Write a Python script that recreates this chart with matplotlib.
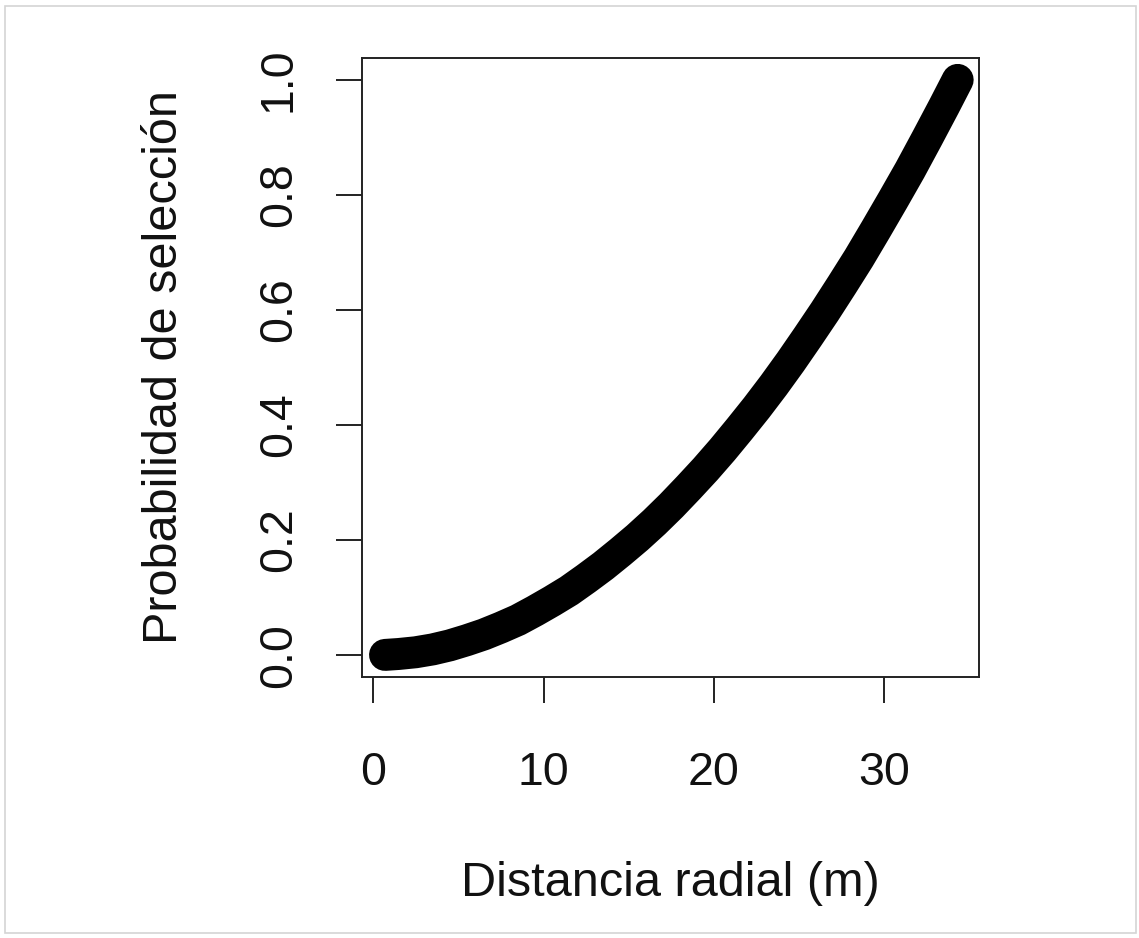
import matplotlib
matplotlib.use("Agg")
import matplotlib.pyplot as plt
from matplotlib.patches import Rectangle

# values
distancia = [0.7, 1.5, 2.5, 3.5, 4.5, 5.5, 6.5, 7.5, 8.5, 9.5, 10.5, 11.5, 12.5, 13.5,
             14.5, 15.5, 16.5, 17.5, 18.5, 19.5, 20.5, 21.5, 22.5, 23.5, 24.5, 25.5,
             26.5, 27.5, 28.5, 29.5, 30.5, 31.5, 32.5, 33.5, 34.3]
probabilidad = [0.0004, 0.002, 0.005, 0.010, 0.017, 0.026, 0.036, 0.048, 0.061,
                0.077, 0.094, 0.112, 0.133, 0.155, 0.179, 0.204, 0.231, 0.260,
                0.291, 0.323, 0.357, 0.393, 0.430, 0.469, 0.510, 0.553, 0.597,
                0.643, 0.690, 0.740, 0.791, 0.843, 0.898, 0.954, 1.0]
x_ticks = [0, 10, 20, 30]
y_ticks = [0.0, 0.2, 0.4, 0.6, 0.8, 1.0]

plt.rcParams['font.family'] = ['Liberation Sans', 'DejaVu Sans']

fig = plt.figure(figsize=(11.39, 9.38), dpi=100)
fig.patch.set_facecolor('white')

# thin grey frame around the whole picture
fig.patches.append(Rectangle((5 / 1139, 5 / 938), 1131 / 1139, 927 / 938,
                             transform=fig.transFigure, fill=False,
                             edgecolor='#d4d4d4', linewidth=1.2))

ax = fig.add_axes([362 / 1139, 1 - 677 / 938, 617 / 1139, 619 / 938])
ax.plot(distancia, probabilidad, color='black', linewidth=23,
        solid_capstyle='round', solid_joinstyle='round')

ax.set_xlim(-0.65, 35.55)
ax.set_ylim(-0.038, 1.038)
ax.set_xticks(x_ticks)
ax.set_yticks(y_ticks)
ax.set_xticklabels([str(t) for t in x_ticks])
ax.set_yticklabels([f"{t:.1f}" for t in y_ticks], rotation=90, va='center')

ax.tick_params(axis='both', direction='out', length=19, width=1.4,
               labelsize=33.5, color='#222222', labelcolor='#111111')
ax.tick_params(axis='x', pad=34)
ax.tick_params(axis='y', pad=25)
for s in ax.spines.values():
    s.set_linewidth(1.4)
    s.set_color('#222222')

ax.set_xlabel('Distancia radial (m)', fontsize=35, labelpad=48, color='#111111')
ax.set_ylabel('Probabilidad de selección', fontsize=35, labelpad=50, color='#111111')

fig.savefig('out.png', dpi=100)
